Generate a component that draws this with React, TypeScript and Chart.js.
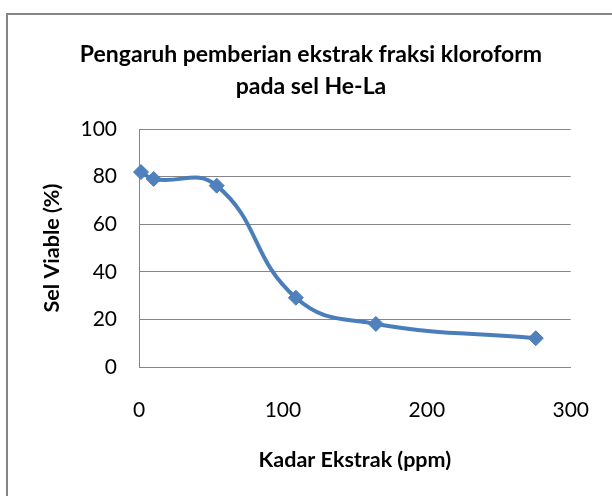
import React, { useEffect, useRef } from "react";
import { Chart, registerables } from "chart.js";

Chart.register(...registerables);

const doseX = [1.4, 10.2, 54, 109, 164.6, 275.7];
const viableY = [81.9, 79.0, 76.2, 29.1, 18.1, 12.1];
const titleLines = ["Pengaruh pemberian ekstrak fraksi kloroform", "pada sel He-La"];
const xTitle = "Kadar Ekstrak (ppm)";
const yTitle = "Sel Viable (%)";

const FONT = "Lato, Carlito, Calibri, 'Open Sans', sans-serif";
const GRID = "#868686";

const framePlugin = {
  id: "frame",
  beforeDraw(chart: any) {
    const ctx = chart.ctx;
    ctx.save();
    ctx.fillStyle = "#ffffff";
    ctx.fillRect(0, 0, chart.width, chart.height);
    ctx.strokeStyle = GRID;
    ctx.lineWidth = 2;
    ctx.strokeRect(7, 14, chart.width + 40, chart.height + 40);
    ctx.restore();
  },
};

export default function App() {
  const ref = useRef<HTMLCanvasElement | null>(null);
  useEffect(() => {
    if (!ref.current) return;
    const points = doseX.map((x, i) => ({ x, y: viableY[i] }));
    const chart = new Chart(ref.current, {
      type: "scatter",
      data: {
        datasets: [
          {
            data: points,
            showLine: true,
            tension: 0.45,
            borderColor: "#4A7EBB",
            borderWidth: 4,
            backgroundColor: "#4F81BD",
            pointStyle: "rectRot",
            pointRadius: 7.5,
            pointBorderWidth: 1,
            pointBorderColor: "#4A7EBB",
            pointBackgroundColor: "#4F81BD",
            clip: false as any,
          },
        ],
      },
      options: {
        responsive: false,
        animation: false,
        layout: { padding: { left: 10, right: 0, top: 0, bottom: 0 } },
        plugins: {
          legend: { display: false },
          tooltip: { enabled: false },
          title: {
            display: true,
            text: titleLines,
            color: "#000",
            font: { family: FONT, size: 23, weight: "bold", lineHeight: 32 / 23 },
            padding: { top: 39, bottom: 26 },
          },
        },
        scales: {
          x: {
            type: "linear",
            min: 0,
            max: 300,
            ticks: { stepSize: 100, color: "#000", font: { family: FONT, size: 21 }, padding: 23 },
            grid: { display: false },
            border: { display: true, color: GRID, width: 1 },
            title: {
              display: true,
              text: xTitle,
              color: "#000",
              font: { family: FONT, size: 21.5, weight: "bold" },
              padding: { top: 0, bottom: 23 },
            },
            afterFit(scale: any) {
              scale.height = 129;
            },
          },
          y: {
            type: "linear",
            min: 0,
            max: 100,
            ticks: { stepSize: 20, color: "#000", font: { family: FONT, size: 21 }, padding: 22 },
            grid: { display: true, color: GRID, lineWidth: 1, drawTicks: false },
            border: { display: true, color: GRID, width: 1 },
            title: {
              display: true,
              text: yTitle,
              color: "#000",
              font: { family: FONT, size: 21.5, weight: "bold" },
              padding: { top: 29, bottom: 0 },
            },
            afterFit(scale: any) {
              scale.width = 129;
            },
          },
          yRight: {
            type: "linear",
            position: "right",
            display: true,
            min: 0,
            max: 100,
            ticks: { display: false },
            grid: { display: false, drawTicks: false },
            border: { display: false },
            afterFit(scale: any) {
              scale.width = 41;
            },
          },
        },
      },
      plugins: [framePlugin],
    });
    return () => chart.destroy();
  }, []);
  return (
    <div style={{ position: "absolute", left: 0, top: 0, width: 612, height: 496 }}>
      <canvas ref={ref} width={612} height={496} style={{ display: "block" }} />
    </div>
  );
}
